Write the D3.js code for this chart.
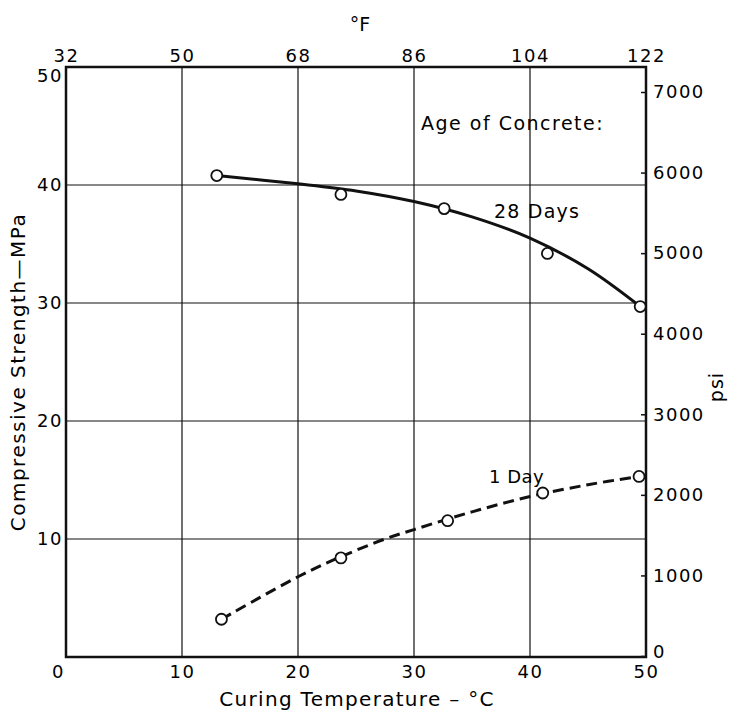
<!DOCTYPE html>
<html>
<head>
<meta charset="utf-8">
<script src="https://cdn.jsdelivr.net/npm/d3@7"></script>
<style>
  html, body { margin: 0; padding: 0; background: #fff; }
  svg { display: block; }
  text { font-family: "DejaVu Sans", sans-serif; fill: #000; }
</style>
</head>
<body>
<svg id="chart" width="729" height="713"></svg>
<script>
// ---- data ----
const celsiusTicks = [0, 10, 20, 30, 40, 50];
const fahrenheitTicks = [32, 50, 68, 86, 104, 122];
const mpaTicks = [10, 20, 30, 40, 50];
const psiTicks = [0, 1000, 2000, 3000, 4000, 5000, 6000, 7000];
const gridC = [10, 20, 30, 40];
const gridMPa = [10, 20, 30, 40];

// measured points (°C, MPa)
const temp28 = [13.0, 23.7, 32.6, 41.5, 49.5];
const strength28 = [40.8, 39.2, 38.0, 34.2, 29.7];
const temp1 = [13.4, 23.7, 32.9, 41.1, 49.4];
const strength1 = [3.2, 8.4, 11.55, 13.9, 15.3];

// fitted curves (°C, MPa)
const curve28T = [13.0, 20, 25, 30, 35, 40, 45, 49.5];
const curve28S = [40.8, 40.1, 39.5, 38.6, 37.3, 35.5, 32.9, 29.7];
const curve1T = [13.4, 20, 23.7, 27.5, 30, 35, 40, 45, 49.4];
const curve1S = [3.2, 6.8, 8.5, 10.0, 10.8, 12.3, 13.6, 14.6, 15.3];

const labelAge = "Age of Concrete:";
const label28 = "28 Days";
const label1 = "1 Day";

// ---- scales ----
const svg = d3.select("#chart");
const x = d3.scaleLinear().domain([0, 50]).range([66, 646]);
const xF = d3.scaleLinear().domain([32, 122]).range([66, 646]);
const y = d3.scaleLinear().domain([0, 50]).range([657, 67]);
const yPsi = d3.scaleLinear().domain([0, 7000]).range([656, 92]);

// ---- grid ----
const grid = svg.append("g").attr("stroke", "#111").attr("stroke-width", 1.2);
grid.selectAll("line.v").data(gridC).join("line")
  .attr("x1", d => x(d)).attr("x2", d => x(d))
  .attr("y1", y(50)).attr("y2", y(0));
grid.selectAll("line.h").data(gridMPa).join("line")
  .attr("x1", x(0)).attr("x2", x(50))
  .attr("y1", d => y(d)).attr("y2", d => y(d));

// ---- axes ----
const fontSize = 18;
function styleAxis(g) {
  g.select(".domain").remove();
  g.selectAll("text").attr("font-size", fontSize).attr("letter-spacing", 1.5)
    .attr("font-family", '"DejaVu Sans", sans-serif').attr("fill", "#000");
}

const axB = svg.append("g").attr("transform", `translate(0,${y(0)})`)
  .call(d3.axisBottom(x).tickValues(celsiusTicks).tickSize(0).tickPadding(8).tickFormat(d3.format("d")));
styleAxis(axB);
axB.selectAll(".tick").filter(d => d === 0).select("text").attr("dx", -8);

const axT = svg.append("g").attr("transform", `translate(0,${y(50)})`)
  .call(d3.axisTop(xF).tickValues(fahrenheitTicks).tickSize(0).tickPadding(5).tickFormat(d3.format("d")));
styleAxis(axT);

const axL = svg.append("g").attr("transform", `translate(${x(0)},0)`)
  .call(d3.axisLeft(y).tickValues(mpaTicks).tickSize(0).tickPadding(3).tickFormat(d3.format("d")));
styleAxis(axL);
axL.selectAll(".tick").filter(d => d === 50).select("text").attr("dy", "0.8em");

const axR = svg.append("g").attr("transform", `translate(${x(50)},0)`)
  .call(d3.axisRight(yPsi).tickValues(psiTicks).tickSizeInner(-5).tickSizeOuter(0).tickPadding(7).tickFormat(d3.format("d")));
styleAxis(axR);
axR.selectAll("line").attr("stroke", "#111").attr("stroke-width", 1.5);
axR.selectAll(".tick").filter(d => d === 0).select("text").attr("dy", "0.1em");

// frame
svg.append("rect")
  .attr("x", x(0)).attr("y", y(50))
  .attr("width", x(50) - x(0)).attr("height", y(0) - y(50))
  .attr("fill", "none").attr("stroke", "#111").attr("stroke-width", 2.5);

// ---- curves ----
const line = d3.line().x(d => x(d[0])).y(d => y(d[1])).curve(d3.curveCatmullRom.alpha(0.5));
svg.append("path")
  .datum(d3.zip(curve28T, curve28S))
  .attr("d", line)
  .attr("fill", "none").attr("stroke", "#111").attr("stroke-width", 3);
svg.append("path")
  .datum(d3.zip(curve1T, curve1S))
  .attr("d", line)
  .attr("fill", "none").attr("stroke", "#111").attr("stroke-width", 3)
  .attr("stroke-dasharray", "11,6");

// ---- markers ----
function markers(ts, ss) {
  svg.append("g").selectAll("circle").data(d3.zip(ts, ss)).join("circle")
    .attr("cx", d => x(d[0])).attr("cy", d => y(d[1])).attr("r", 5.5)
    .attr("fill", "#fff").attr("stroke", "#111").attr("stroke-width", 1.8);
}
markers(temp28, strength28);
markers(temp1, strength1);

// ---- annotations ----
svg.append("text").attr("x", 421).attr("y", 130)
  .attr("font-size", 19).attr("letter-spacing", 1.5).text(labelAge);
svg.append("text").attr("x", 494).attr("y", 218)
  .attr("font-size", 19).attr("letter-spacing", 1.2).text(label28);
svg.append("text").attr("x", 489).attr("y", 483)
  .attr("font-size", 18).attr("letter-spacing", 0.5).text(label1);

// ---- titles ----
svg.append("text").attr("x", 357).attr("y", 706).attr("text-anchor", "middle")
  .attr("font-size", 20).attr("letter-spacing", 1.3).text("Curing Temperature – °C");
svg.append("text").attr("transform", "translate(25,372) rotate(-90)")
  .attr("text-anchor", "middle")
  .attr("font-size", 20).attr("letter-spacing", 1.5).text("Compressive Strength—MPa");
svg.append("text").attr("transform", "translate(723,387) rotate(-90)")
  .attr("text-anchor", "middle")
  .attr("font-size", 19).attr("letter-spacing", 1).text("psi");
svg.append("text").attr("x", 360).attr("y", 31).attr("text-anchor", "middle")
  .attr("font-size", 19).text("°F");
</script>
</body>
</html>
